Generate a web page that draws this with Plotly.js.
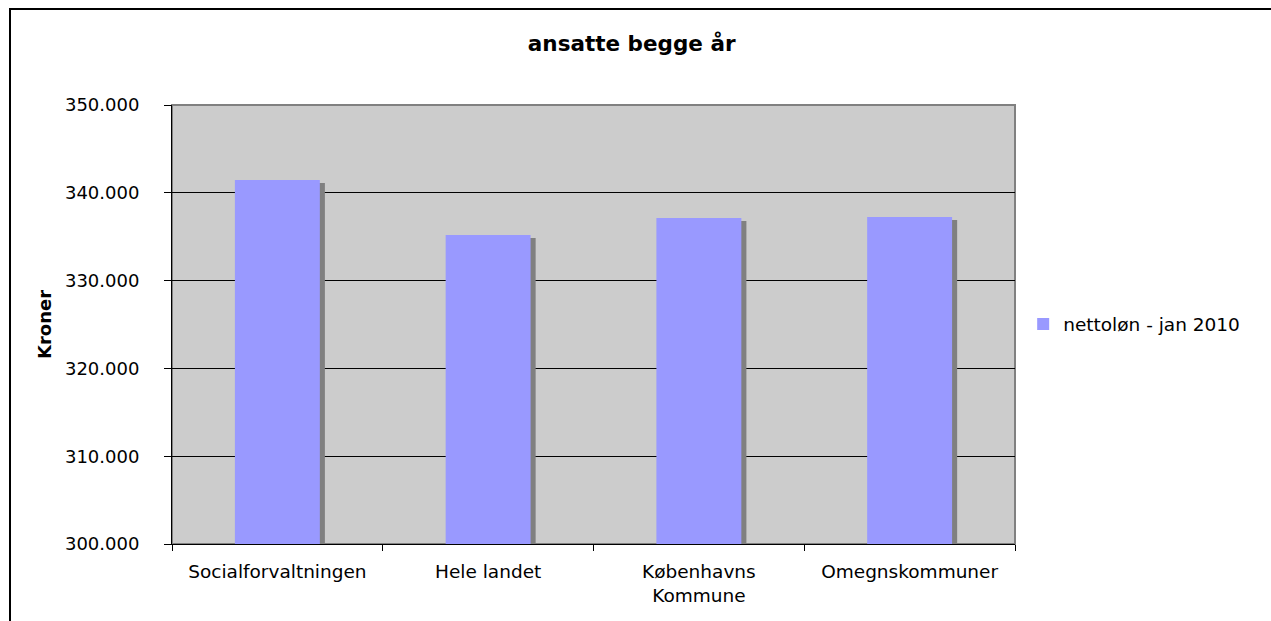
<!DOCTYPE html>
<html>
<head>
<meta charset="utf-8">
<script src="https://cdn.plot.ly/plotly-3.0.1.min.js"></script>
<style>
  html, body { margin: 0; padding: 0; background: #ffffff; }
  #wrap { position: relative; width: 1271px; height: 621px; overflow: hidden; }
  #frame { position: absolute; left: 9px; top: 8px; width: 1400px; height: 700px;
           border-left: 2px solid #000; border-top: 2px solid #000; pointer-events: none; z-index: 2; }
  #chart { position: absolute; left: 0; top: 0; width: 1271px; height: 621px; z-index: 1; }
</style>
</head>
<body>
<div id="wrap">
  <div id="chart"></div>
  <div id="frame"></div>
</div>
<script>
const categories = ["Socialforvaltningen", "Hele landet", "Københavns<br>Kommune", "Omegnskommuner"];
const values = [341450, 335200, 337130, 337240];
const seriesName = "nettoløn - jan 2010";
const chartTitle = "ansatte begge år";
const yTitle = "Kroner";

const FONT = "DejaVu Sans, Verdana, sans-serif";
const barWidth = 0.403;
const shadowDx = 0.024;   // ~5px in category units
const shadowDy = 340;     // ~3px in value units

const shadow = {
  type: "bar",
  x: categories,
  y: values.map(v => v - shadowDy),
  width: barWidth,
  offset: -barWidth / 2 + shadowDx,
  marker: { color: "#808080", line: { width: 0 } },
  showlegend: false,
  hoverinfo: "skip"
};
const main = {
  type: "bar",
  name: seriesName,
  x: categories,
  y: values,
  width: barWidth,
  offset: -barWidth / 2,
  marker: { color: "#9999FF", line: { width: 0 } }
};

const layout = {
  width: 1271,
  height: 621,
  margin: { l: 172, r: 256, t: 105, b: 77 },
  paper_bgcolor: "rgba(0,0,0,0)",
  plot_bgcolor: "#CCCCCC",
  barmode: "overlay",
  separators: ",.",
  font: { family: FONT, size: 18, color: "#000" },
  title: {
    text: "<b>" + chartTitle + "</b>",
    font: { family: FONT, size: 21.5, color: "#000" },
    x: 0.497, xref: "container", xanchor: "center",
    y: 0.93, yref: "container", yanchor: "middle"
  },
  xaxis: {
    type: "category",
    tickson: "boundaries",
    ticks: "outside",
    ticklen: 6,
    tickcolor: "#000",
    tickwidth: 1,
    showline: true,
    linecolor: "#000",
    linewidth: 1,
    showgrid: false,
    ticklabelstandoff: 11,
    tickfont: { family: FONT, size: 18.5, color: "#000" },
    automargin: false
  },
  yaxis: {
    range: [300000, 350000],
    dtick: 10000,
    tick0: 300000,
    tickformat: ",d",
    ticks: "outside",
    ticklen: 7,
    tickcolor: "#000",
    showline: true,
    linecolor: "#000",
    linewidth: 1,
    showgrid: true,
    gridcolor: "#000",
    gridwidth: 1,
    zeroline: false,
    ticklabelstandoff: 21,
    tickfont: { family: FONT, size: 18, color: "#000" },
    title: { text: "<b>" + yTitle + "</b>", font: { family: FONT, size: 18, color: "#000" }, standoff: 8 },
    automargin: false
  },
  shapes: [
    { type: "rect", xref: "paper", yref: "paper", x0: 0, x1: 1, y0: 0, y1: 1,
      line: { color: "#808080", width: 2 }, fillcolor: "rgba(0,0,0,0)", layer: "below" }
  ],
  legend: {
    x: 1.0097, xanchor: "left",
    y: 0.5, yanchor: "middle",
    bgcolor: "rgba(0,0,0,0)",
    font: { family: FONT, size: 18.5, color: "#000" },
    itemwidth: 30
  },
  showlegend: true
};

Plotly.newPlot("chart", [shadow, main], layout, { displayModeBar: false, staticPlot: true });
</script>
</body>
</html>
